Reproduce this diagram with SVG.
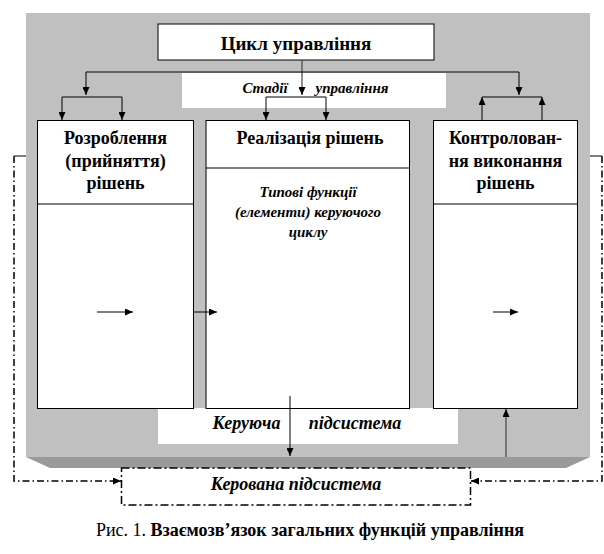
<svg xmlns="http://www.w3.org/2000/svg" width="604" height="554" viewBox="0 0 604 554">
<style>
text{font-family:"Liberation Serif","Times New Roman",serif;fill:#000;text-anchor:middle}
.b{font-weight:bold}
.bi{font-weight:bold;font-style:italic}
.box{fill:#fff;stroke:#000;stroke-width:1}
.ln{fill:none;stroke:#000;stroke-width:1}
.gl{fill:none;stroke:#444;stroke-width:1.2}
.dd{fill:none;stroke:#000;stroke-width:1.5;stroke-dasharray:7,3,1.5,3}
</style>
<defs>
<marker id="arr" markerUnits="userSpaceOnUse" markerWidth="8" markerHeight="7" refX="8" refY="3.5" orient="auto">
<path d="M0,0 L8,3.5 L0,7 z" fill="#000"/>
</marker>
</defs>
<g id="background">
<rect x="26" y="13" width="564" height="444" fill="#c0c0c0"/>
<polygon points="26,457 590,457 566,468 50,468" fill="#9a9a9a"/>
<rect x="182" y="73" width="264" height="35" fill="#fff"/>
<rect x="158" y="408" width="300" height="36" fill="#fff"/>
</g>
<g id="title">
<rect class="box" x="158" y="24" width="276" height="36"/>
<text class="b" x="296" y="50" font-size="19">Цикл управління</text>
</g>
<g id="stages">
<text class="bi" font-size="15" y="93"><tspan x="265">Стадії</tspan><tspan x="352">управління</tspan></text>
</g>
<g id="develop">
<rect class="box" x="37.5" y="120.5" width="156" height="288"/>
<line class="ln" x1="37.5" y1="204" x2="193.5" y2="204"/>
<text class="b" font-size="18"><tspan x="115.5" y="144">Розроблення</tspan><tspan x="115.5" y="166.5">(прийняття)</tspan><tspan x="115.5" y="189">рішень</tspan></text>
</g>
<g id="implement">
<rect class="box" x="206" y="120.5" width="203.5" height="288"/>
<line class="ln" x1="206" y1="168" x2="409.5" y2="168"/>
<text class="b" x="310" y="144" font-size="18">Реалізація рішень</text>
<text class="bi" font-size="15"><tspan x="308" y="197">Типові функції</tspan><tspan x="308" y="217">(елементи) керуючого</tspan><tspan x="308" y="237">циклу</tspan></text>
</g>
<g id="control">
<rect class="box" x="433.5" y="120.5" width="144" height="288"/>
<line class="ln" x1="433.5" y1="204" x2="577.5" y2="204"/>
<text class="b" font-size="18"><tspan x="505.5" y="144">Контролован-</tspan><tspan x="505.5" y="166.5">ня виконання</tspan><tspan x="505.5" y="189">рішень</tspan></text>
</g>
<g id="managing">
<text class="bi" font-size="18" y="429"><tspan x="246.5">Керуюча</tspan><tspan x="355">підсистема</tspan></text>
</g>
<g id="managed">
<rect x="121.5" y="468" width="349" height="37" fill="#fff" stroke="#000" stroke-width="1.5" stroke-dasharray="8,3,2,3"/>
<text class="bi" x="296" y="490" font-size="18">Керована підсистема</text>
</g>
<g id="connectors">
<path class="gl" d="M302,60 V95" marker-end="url(#arr)"/>
<path class="ln" d="M86,72 H519"/>
<path class="ln" d="M86,72 V95" marker-end="url(#arr)"/>
<path class="ln" d="M519,72 V95" marker-end="url(#arr)"/>
<path class="ln" d="M62,97 H122 M266,97 H326 M482,97 H542"/>
<path class="ln" d="M62,97 V120" marker-end="url(#arr)"/>
<path class="ln" d="M122,97 V120" marker-end="url(#arr)"/>
<path class="ln" d="M266,97 V120" marker-end="url(#arr)"/>
<path class="ln" d="M326,97 V120" marker-end="url(#arr)"/>
<path class="ln" d="M482,120 V97" marker-end="url(#arr)"/>
<path class="ln" d="M542,120 V97" marker-end="url(#arr)"/>
<path class="ln" d="M97,312 H133" marker-end="url(#arr)"/>
<path class="ln" d="M194,312 H217" marker-end="url(#arr)"/>
<path class="ln" d="M493,312 H518" marker-end="url(#arr)"/>
<path class="ln" d="M290,396 V456" marker-end="url(#arr)"/>
<path class="gl" d="M506,457 V409" marker-end="url(#arr)"/>
<path class="ln" d="M26,156 H14"/>
<path class="dd" d="M14,156 V481 H121" marker-end="url(#arr)"/>
<path class="ln" d="M590,156 H602"/>
<path class="dd" d="M602,156 V481 H471" marker-end="url(#arr)"/>
</g>
<g id="caption">
<text x="310" y="536" font-size="18"><tspan>Рис. 1. </tspan><tspan class="b">Взаємозв’язок загальних функцій управління</tspan></text>
</g>
</svg>
